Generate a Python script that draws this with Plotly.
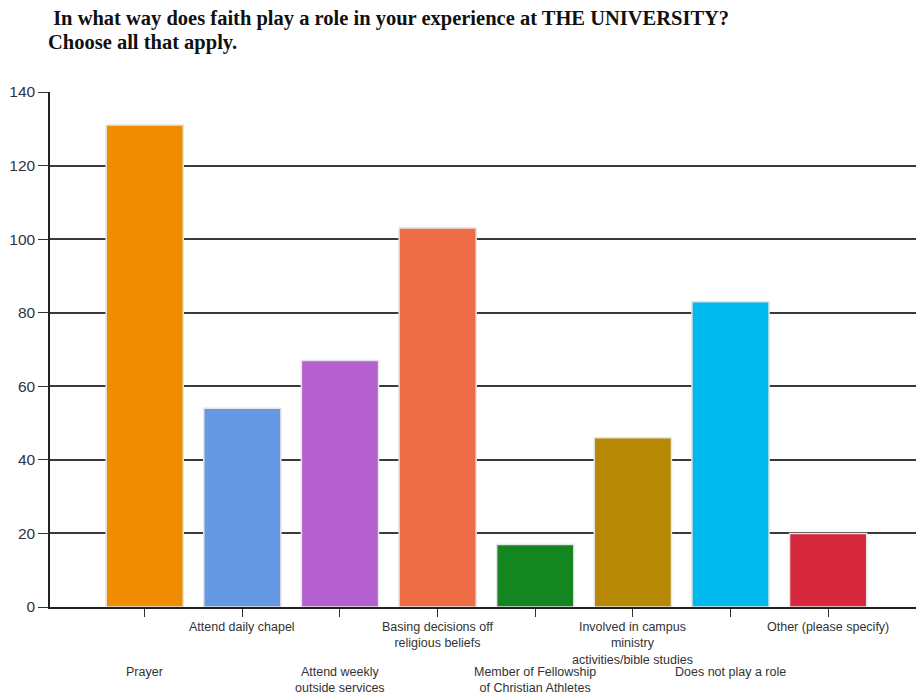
import plotly.graph_objects as go

# Survey responses: "In what way does faith play a role ..."
categories = [
    "Prayer",
    "Attend daily chapel",
    "Attend weekly<br>outside services",
    "Basing decisions off<br>religious beliefs",
    "Member of Fellowship<br>of Christian Athletes",
    "Involved in campus<br>ministry<br>activities/bible studies",
    "Does not play a role",
    "Other (please specify)",
]
responses = [131, 54, 67, 103, 17, 46, 83, 20]
bar_colors = ["#F08C00", "#6498E2", "#B560CF", "#EE6C46",
              "#138622", "#B78803", "#00B9EF", "#D6283C"]
y_ticks = [0, 20, 40, 60, 80, 100, 120, 140]

title_lines = [
    " In what way does faith play a role in your experience at THE UNIVERSITY?",
    "Choose all that apply.",
]

positions = list(range(len(categories)))

fig = go.Figure()
fig.add_trace(go.Bar(
    x=positions,
    y=responses,
    marker=dict(color=bar_colors, line=dict(color="#E4E4E4", width=1.5)),
    width=0.79,
    hoverinfo="y",
))

label_font = dict(family="Liberation Sans, Arial, sans-serif", size=12.5, color="#333333")
annotations = []
# Category labels alternate between two rows under the axis
for i, label in enumerate(categories):
    annotations.append(dict(
        x=i, xref="x", y=0, yref="paper",
        text=label, showarrow=False, font=label_font,
        align="center", xanchor="center", yanchor="top",
        yshift=-11 if i % 2 == 1 else -56,
    ))

# Two-line heading above the plot
title_font = dict(family="Liberation Serif, serif", size=20.5, color="#111111", weight="bold")
for k, line in enumerate(title_lines):
    annotations.append(dict(
        x=0, xref="paper", y=1, yref="paper",
        xshift=-4, yshift=74 - 24 * k,
        text=line, showarrow=False,
        align="left", xanchor="left", yanchor="middle",
        font=title_font,
    ))

fig.update_layout(
    width=918, height=696,
    margin=dict(l=50, r=2, t=92, b=89),
    paper_bgcolor="white", plot_bgcolor="white",
    showlegend=False,
    bargap=0.21,
    annotations=annotations,
    xaxis=dict(
        range=[-0.97, 7.9],
        tickvals=positions, ticktext=[""] * len(positions),
        ticks="outside", ticklen=8, tickcolor="#333333", tickwidth=1.2,
        showgrid=False, zeroline=False,
        showline=True, linecolor="#222222", linewidth=1.5,
    ),
    yaxis=dict(
        range=[0, 140],
        tickvals=y_ticks,
        ticks="outside", ticklen=10, tickcolor="#333333", tickwidth=1.2,
        tickfont=dict(family="Liberation Sans, Arial, sans-serif", size=15.5, color="#2E3440"),
        showgrid=True, gridcolor="#3A3A3A", gridwidth=1.5,
        zeroline=False,
        showline=True, linecolor="#222222", linewidth=1.5,
    ),
)

fig.write_html("out.html")
